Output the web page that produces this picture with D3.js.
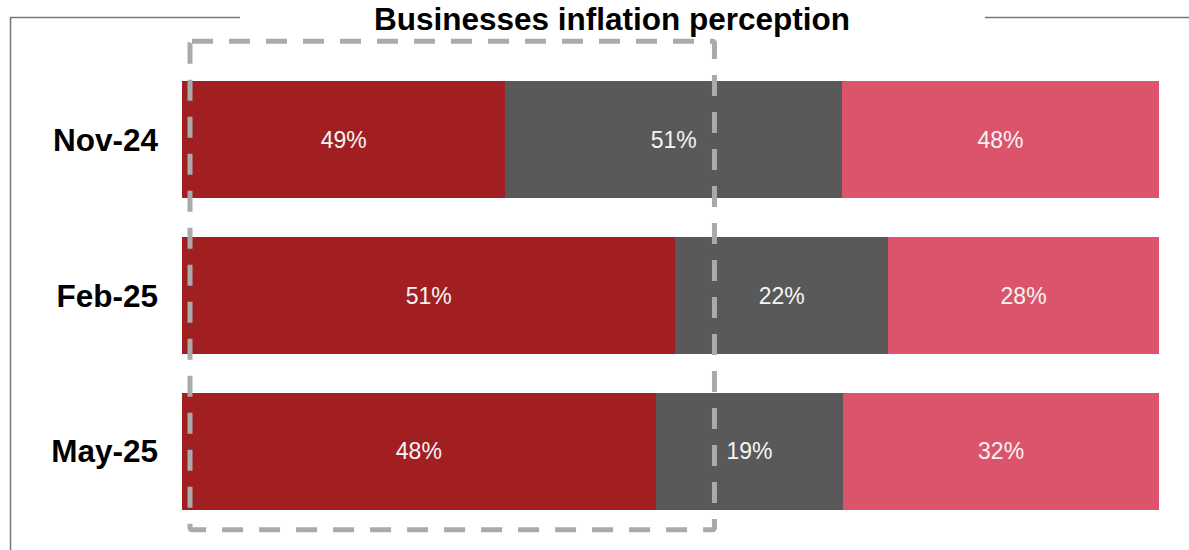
<!DOCTYPE html>
<meta charset="utf-8">
<style>
body { margin: 0; background: #fff; }
svg { display: block; font-family: Arial, "Liberation Sans", sans-serif; }
.title { font-size: 31.5px; font-weight: bold; fill: #000; }
.rowlab { font-size: 31.5px; font-weight: bold; fill: #000; }
.val { font-size: 23px; fill: #f4f4f4; }
</style>
<body>
<svg width="1189" height="550"></svg>
</body>
<script src="https://d3js.org/d3.v7.min.js"></script>
<script>

// data
var periods = ["Nov-24", "Feb-25", "May-25"];
var keys = ["up", "same", "down"];
var up = [49, 51, 48];
var same = [51, 22, 19];
var down = [48, 28, 32];
var colors = ["#a11f21", "#595959", "#dc546b"];

var svg = d3.select("svg"),
    width = +svg.attr("width"),
    height = +svg.attr("height");

// each row is drawn as shares of its own total
var rows = periods.map(function(p, i) {
  return { period: p, up: up[i], same: same[i], down: down[i] };
});
var stack = d3.stack().keys(keys).offset(d3.stackOffsetExpand);
var series = stack(rows);

var x = d3.scaleLinear().domain([0, 1]).range([182, 1159]);
var y = d3.scaleBand().domain(periods).range([61, 530]).paddingInner(0.25).paddingOuter(0.13);
var color = d3.scaleOrdinal().domain(keys).range(colors);

// frame
svg.append("path")
  .attr("d", "M240,17.5H10.5V550")
  .attr("fill", "none").attr("stroke", "#777").attr("stroke-width", 1.5);
svg.append("line")
  .attr("x1", 985).attr("x2", 1189).attr("y1", 17.5).attr("y2", 17.5)
  .attr("stroke", "#777").attr("stroke-width", 1.5);

svg.append("text").attr("class", "title")
  .attr("x", 612).attr("y", 30).attr("text-anchor", "middle")
  .text("Businesses inflation perception");

var g = svg.append("g");
var layer = g.selectAll("g.layer").data(series).enter().append("g")
  .attr("class", "layer")
  .attr("fill", function(d) { return color(d.key); });

layer.selectAll("rect").data(function(d) { return d; }).enter().append("rect")
  .attr("x", function(d) { return Math.round(x(d[0])); })
  .attr("width", function(d) { return Math.round(x(d[1])) - Math.round(x(d[0])); })
  .attr("y", function(d) { return y(d.data.period); })
  .attr("height", y.bandwidth())
  .attr("shape-rendering", "crispEdges");

series.forEach(function(s) {
  g.selectAll(null).data(s).enter().append("text")
    .attr("class", "val")
    .attr("x", function(d) { return (x(d[0]) + x(d[1])) / 2; })
    .attr("y", function(d) { return y(d.data.period) + y.bandwidth() / 2; })
    .attr("dy", "0.35em")
    .attr("text-anchor", "middle")
    .text(function(d) { return d.data[s.key] + "%"; });
});

// row labels
svg.selectAll("text.rowlab").data(periods).enter().append("text")
  .attr("class", "rowlab")
  .attr("x", 158)
  .attr("y", function(d) { return y(d) + y.bandwidth() / 2; })
  .attr("dy", "0.35em")
  .attr("text-anchor", "end")
  .text(function(d) { return d; });

// dashed highlight box over the "up" part
var bx0 = x(0) + 8, bx1 = x(0.545);
var by0 = y(periods[0]) - 40, by1 = y(periods[2]) + y.bandwidth() + 20;
svg.append("rect")
  .attr("x", bx0).attr("y", by0)
  .attr("width", bx1 - bx0).attr("height", by1 - by0)
  .attr("rx", 2)
  .attr("fill", "none")
  .attr("stroke", "#aaaaaa")
  .attr("stroke-width", 5)
  .attr("stroke-dasharray", "21,16");

</script>
